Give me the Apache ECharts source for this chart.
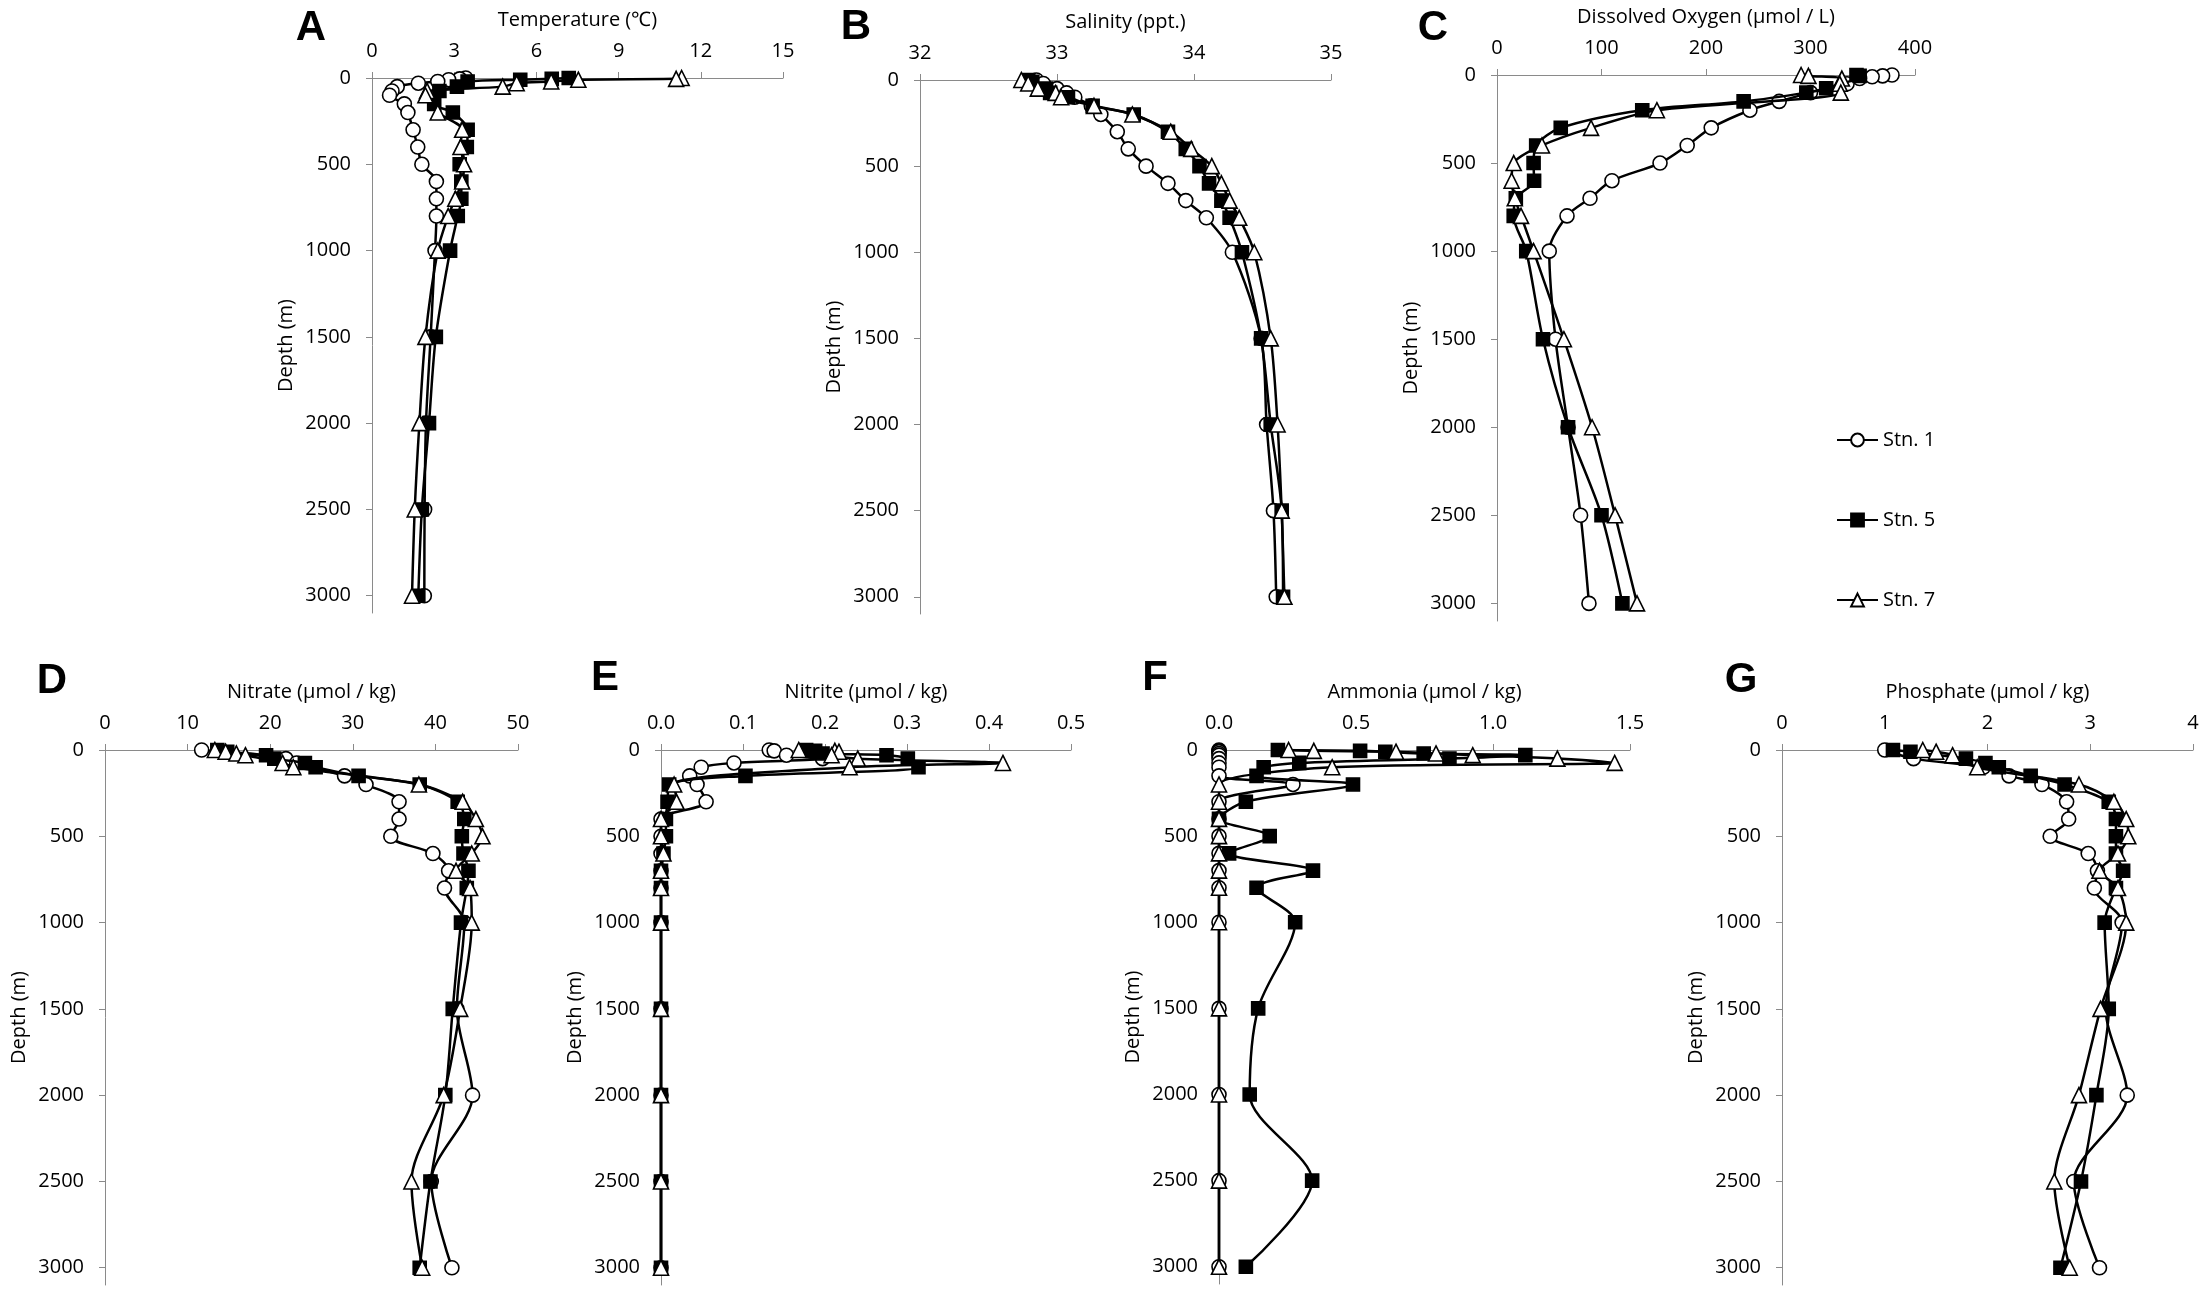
<!DOCTYPE html>
<html>
<head>
<meta charset="utf-8">
<script src="https://cdn.jsdelivr.net/npm/echarts@6/dist/echarts.min.js"></script>
<style>
html,body{margin:0;padding:0;background:#ffffff;}
#chart{width:2205px;height:1294px;}
</style>
</head>
<body>
<div id="chart"></div>
<script>
// ---------------- DATA ----------------
const DEPTHS = [0, 5, 10, 20, 30, 50, 75, 100, 150, 200, 300, 400, 500, 600, 700, 800, 1000, 1500, 2000, 2500, 3000];
const DEPTH_TICKS = [0, 500, 1000, 1500, 2000, 2500, 3000];
const STATIONS = ['Stn. 1', 'Stn. 5', 'Stn. 7'];
const PANEL_LETTERS = ['A', 'B', 'C', 'D', 'E', 'F', 'G'];
const AXIS_TITLES = ['Temperature (℃)', 'Salinity (ppt.)', 'Dissolved Oxygen (µmol / L)',
  'Nitrate (µmol / kg)', 'Nitrite (µmol / kg)', 'Ammonia (µmol / kg)', 'Phosphate (µmol / kg)'];
const X_MIN = [0, 32, 0, 0, 0, 0, 0];
const X_MAX = [15, 35, 400, 50, 0.5, 1.5, 4];
const X_STEP = [3, 1, 100, 10, 0.1, 0.5, 1];
const X_DECIMALS = [0, 0, 0, 0, 1, 1, 0];

// A: Temperature
const tempStn1 = [3.42, 3.2, 2.8, 2.4, 1.69, 0.92, 0.73, 0.64, 1.18, 1.31, 1.5, 1.67, 1.82, 2.35, 2.35, 2.35, 2.3, 2.14, 1.97, 1.92, 1.91];
const tempStn5 = [7.18, 6.56, 5.41, 3.49, null, 3.1, 2.46, null, 2.27, 2.95, 3.49, 3.46, 3.2, 3.26, 3.26, 3.13, 2.85, 2.33, 2.08, 1.82, 1.69];
const tempStn7 = [11.3, 11.1, 7.53, 6.54, 5.28, 4.77, 2.01, 1.95, null, 2.4, 3.29, 3.23, 3.36, 3.29, 3.04, 2.78, 2.4, 1.95, 1.73, 1.56, 1.46];
// B: Salinity
const salStn1 = [32.85, null, null, 32.9, null, 33.0, 33.07, 33.13, 33.25, 33.32, 33.44, 33.52, 33.65, 33.81, 33.94, 34.09, 34.28, 34.49, 34.53, 34.58, 34.6];
const salStn5 = [32.79, null, 32.82, null, null, 32.92, 32.95, 33.08, 33.26, 33.56, 33.81, 33.94, 34.04, 34.11, 34.2, 34.26, 34.35, 34.49, 34.56, 34.64, 34.65];
const salStn7 = [32.74, null, null, 32.79, null, 32.86, 32.99, 33.03, 33.27, 33.55, 33.83, 33.98, 34.13, 34.2, 34.26, 34.33, 34.44, 34.56, 34.61, 34.64, 34.66];
// C: Dissolved oxygen
const doStn1 = [378, 369, 359, 347, null, 335, null, 300, 270, 242, 205, 182, 156, 110, 89, 67, 50, 56, 68, 80, 88];
const doStn5 = [344, 347, null, null, null, null, 315, 296, 236, 139, 61, 37.5, 35, 35.5, 18, 16, 28, 44, 68, 100, 120];
const doStn7 = [291, 298, null, 330, null, 328, null, 329, null, 153, 90, 43, 16, 14, 17, 23, 35, 64, 91, 113, 134];
// D: Nitrate
const no3Stn1 = [11.7, null, null, null, null, 21.9, 23.2, null, 29, 31.6, 35.6, 35.6, 34.6, 39.7, 41.6, 41.1, 43.5, 42.6, 44.5, 39.5, 42.0];
const no3Stn5 = [13.6, null, 14.8, null, 19.5, 20.5, 24.2, 25.5, 30.7, 38.1, 42.7, 43.5, 43.2, 43.4, 44.0, 43.8, 43.1, 42.1, 41.2, 39.4, 38.1];
const no3Stn7 = [13.3, null, 14.6, 15.9, 17, null, 21.5, 22.8, null, 38, 43.3, 44.9, 45.7, 44.4, 42.5, 44.2, 44.4, 43.0, 41.0, 37.1, 38.4];
// E: Nitrite
const no2Stn1 = [0.132, 0.138, null, null, 0.153, 0.197, 0.089, 0.049, 0.035, 0.044, 0.055, 0, 0, 0, 0, 0, 0, 0, 0, 0, 0];
const no2Stn5 = [0.177, 0.188, null, 0.197, 0.275, 0.301, null, 0.314, 0.103, 0.01, 0.008, 0.006, 0.006, 0.003, 0, 0, 0, 0, 0, 0, 0];
const no2Stn7 = [0.168, 0.212, 0.217, null, 0.208, 0.24, 0.417, 0.23, null, 0.016, 0.019, 0, 0, 0.003, 0, 0, 0, 0, 0, 0, 0];
// F: Ammonia
const nh4Stn1 = [0, 0, 0, 0, 0, 0, 0, 0, 0, 0.27, 0, 0, 0, 0, 0, 0, 0, 0, 0, 0, 0];
const nh4Stn5 = [0.215, 0.515, 0.607, 0.747, 1.118, 0.841, 0.293, 0.163, 0.137, 0.489, 0.098, 0, 0.185, 0.037, 0.343, 0.137, 0.278, 0.143, 0.112, 0.34, 0.098];
const nh4Stn7 = [0.254, 0.346, 0.646, 0.792, 0.926, 1.235, 1.444, 0.413, null, 0, 0, 0, 0, 0, 0, 0, 0, 0, 0, 0, 0];
// G: Phosphate
const po4Stn1 = [1.0, null, null, null, null, 1.28, null, 1.96, 2.21, 2.53, 2.77, 2.79, 2.61, 2.98, 3.07, 3.04, 3.31, 3.15, 3.36, 2.84, 3.09];
const po4Stn5 = [1.08, null, 1.25, null, null, 1.79, 1.98, 2.11, 2.42, 2.75, 3.18, 3.25, 3.25, 3.25, 3.32, 3.25, 3.14, 3.18, 3.06, 2.91, 2.71];
const po4Stn7 = [1.37, null, 1.5, null, 1.66, null, null, 1.9, null, 2.89, 3.23, 3.35, 3.37, 3.27, 3.09, 3.27, 3.35, 3.10, 2.89, 2.65, 2.80];

const PANEL_VALUES = [
  [tempStn1, tempStn5, tempStn7],
  [salStn1, salStn5, salStn7],
  [doStn1, doStn5, doStn7],
  [no3Stn1, no3Stn5, no3Stn7],
  [no2Stn1, no2Stn5, no2Stn7],
  [nh4Stn1, nh4Stn5, nh4Stn7],
  [po4Stn1, po4Stn5, po4Stn7]
];

// ---------------- LAYOUT / STYLE ----------------
const LAYOUT = {
  grids: [
    {left: 372, top: 78, width: 411, height: 535},
    {left: 920, top: 80, width: 411, height: 534},
    {left: 1497, top: 75, width: 418, height: 546},
    {left: 105, top: 750, width: 413, height: 535},
    {left: 661, top: 750, width: 410, height: 535},
    {left: 1219, top: 750, width: 411, height: 534},
    {left: 1782, top: 750, width: 411, height: 535}
  ],
  letters: [[311, 28], [856, 27], [1433, 28], [52, 681], [605, 678], [1155, 678], [1741, 680]],
  depthMax: 3100
};
const FONT = '"Open Sans", Lato, sans-serif';
const AXIS_COLOR = '#8a8a8a';
const SYMBOLS = [
  {symbol: 'circle', size: 14, fill: '#ffffff'},
  {symbol: 'rect', size: 13, fill: '#000000'},
  {symbol: 'triangle', size: 15, fill: '#ffffff'}
];

function toPairs(vals) {
  const out = [];
  DEPTHS.forEach((d, i) => { if (vals[i] !== null && vals[i] !== undefined) out.push([vals[i], d]); });
  return out;
}

const grid = [], xAxis = [], yAxis = [], series = [], graphic = [];
LAYOUT.grids.forEach((g, i) => {
  grid.push(Object.assign({containLabel: false, outerBoundsMode: 'none'}, g));
  const dec = X_DECIMALS[i];
  xAxis.push({
    type: 'value', gridIndex: i, position: 'top',
    min: X_MIN[i], max: X_MAX[i], interval: X_STEP[i],
    name: AXIS_TITLES[i], nameLocation: 'middle', nameGap: 48,
    nameTextStyle: {fontFamily: FONT, fontSize: 20, color: '#000'},
    axisLine: {show: true, onZero: false, lineStyle: {color: AXIS_COLOR, width: 1}},
    axisTick: {show: true, inside: false, length: 6, lineStyle: {color: AXIS_COLOR}},
    axisLabel: {fontFamily: FONT, fontSize: 20, color: '#000', margin: 17,
      formatter: v => Number(v).toFixed(dec)},
    splitLine: {show: false}
  });
  yAxis.push({
    type: 'value', gridIndex: i, inverse: true, min: 0, max: LAYOUT.depthMax, interval: 500,
    name: 'Depth (m)', nameLocation: 'middle', nameGap: 76,
    nameTextStyle: {fontFamily: FONT, fontSize: 20, color: '#000'},
    axisLine: {show: true, onZero: false, lineStyle: {color: AXIS_COLOR, width: 1}},
    axisTick: {show: true, inside: false, length: 6, customValues: DEPTH_TICKS, lineStyle: {color: AXIS_COLOR}},
    axisLabel: {fontFamily: FONT, fontSize: 20, color: '#000', margin: 21, customValues: DEPTH_TICKS,
      formatter: v => (DEPTH_TICKS.indexOf(v) >= 0 ? String(v) : '')},
    splitLine: {show: false}
  });
  PANEL_VALUES[i].forEach((vals, s) => {
    const sy = SYMBOLS[s];
    series.push({
      type: 'line', name: STATIONS[s], xAxisIndex: i, yAxisIndex: i,
      data: toPairs(vals), smooth: 0.3,
      symbol: sy.symbol, symbolSize: sy.size, showSymbol: true,
      lineStyle: {color: '#000', width: 2.5},
      itemStyle: {color: sy.fill, borderColor: '#000', borderWidth: 1.6},
      z: 2 + s, silent: true
    });
  });
  const L = LAYOUT.letters[i];
  graphic.push({
    type: 'text', x: L[0], y: L[1],
    style: {text: PANEL_LETTERS[i], font: 'bold 42px "Liberation Sans", Arial, sans-serif',
      fill: '#000', align: 'center', verticalAlign: 'middle', textAlign: 'center', textVerticalAlign: 'middle'}
  });
});

const chart = echarts.init(document.getElementById('chart'), null, {renderer: 'canvas'});
chart.setOption({
  backgroundColor: '#ffffff',
  animation: false,
  grid, xAxis, yAxis, series, graphic,
  legend: {
    data: STATIONS, orient: 'vertical', left: 1831, top: 424,
    itemWidth: 41, itemHeight: 16, itemGap: 58,
    textStyle: {fontFamily: FONT, fontSize: 20, color: '#000', lineHeight: 22},
    selectedMode: false
  }
});
</script>
</body>
</html>
